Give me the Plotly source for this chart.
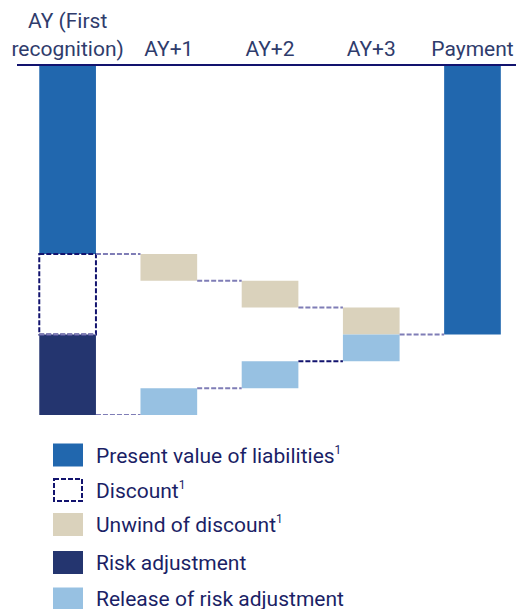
import plotly.graph_objects as go

categories = ["AY (First<br>recognition)", "AY+1", "AY+2", "AY+3", "Payment"]
present_value = 7.0
discount = 3.0
risk_adjustment = 3.0
unwind = [1.0, 1.0, 1.0]      # AY+1..AY+3
release = [1.0, 1.0, 1.0]     # AY+1..AY+3
payment = 10.0

SUP = "<sup><span style='font-size:12px'>1</span></sup>"
legend_labels = ["Present value of liabilities" + SUP, "Discount" + SUP,
                 "Unwind of discount" + SUP, "Risk adjustment", "Release of risk adjustment"]

C_PV = "#2167ae"
C_RA = "#24356f"
C_UNW = "#dad2bc"
C_REL = "#97c1e2"
C_DASH = "#7f7db6"
C_NAVY = "#12136e"
C_TEXT = "#1b1f66"
C_TICK = "#2f3c6c"
DASH = "5px,2px"

W = 0.56
xs = list(range(len(categories)))

fig = go.Figure()

# AY bars
fig.add_bar(x=[0], y=[present_value], base=[0], marker=dict(color=C_PV, line_width=0), width=W, showlegend=False)
fig.add_bar(x=[0], y=[risk_adjustment], base=[present_value + discount], marker=dict(color=C_RA, line_width=0), width=W, showlegend=False)

# unwind
ub = []
acc = present_value
for u in unwind:
    ub.append(acc)
    acc += u
fig.add_bar(x=[1, 2, 3], y=unwind, base=ub, marker=dict(color=C_UNW, line_width=0), width=W, showlegend=False)

# release
rb = []
acc = present_value + discount + risk_adjustment
for r in release:
    acc -= r
    rb.append(acc)
fig.add_bar(x=[1, 2, 3], y=release, base=rb, marker=dict(color=C_REL, line_width=0), width=W, showlegend=False)

# payment
fig.add_bar(x=[4], y=[payment], base=[0], marker=dict(color=C_PV, line_width=0), width=W, showlegend=False)

shapes = []
# discount dashed box
shapes.append(dict(type="rect", xref="x", yref="y", x0=-W / 2, x1=W / 2,
                   y0=present_value, y1=present_value + discount,
                   line=dict(color=C_NAVY, width=2, dash=DASH), fillcolor="rgba(0,0,0,0)"))

# connectors top (unwind chain)
tops = [present_value] + [b + u for b, u in zip(ub, unwind)]
for i in range(4):
    y = tops[i]
    shapes.append(dict(type="line", xref="x", yref="y", x0=i + W / 2, x1=i + 1 - W / 2, y0=y, y1=y,
                       line=dict(color=C_DASH, width=2, dash=DASH)))
# bottom edge of discount box appears in connector colour
shapes.append(dict(type="line", xref="x", yref="y", x0=-W / 2, x1=W / 2,
                   y0=present_value + discount, y1=present_value + discount,
                   line=dict(color=C_DASH, width=2, dash=DASH)))
# connectors bottom (release chain)
bots = [present_value + discount + risk_adjustment] + rb
for i in range(3):
    y = bots[i]
    col = C_NAVY if i == 2 else C_DASH
    shapes.append(dict(type="line", xref="x", yref="y", x0=i + W / 2, x1=i + 1 - W / 2, y0=y, y1=y,
                       line=dict(color=col, width=2, dash=DASH)))

# manual legend (pixel -> paper)
PL, PR, PT, PB = 17, 516, 66, 415
def px(x):
    return (x - PL) / (PR - PL)
def py(y):
    return (PB - y) / (PB - PT)

legend_y = [455, 490, 524.5, 562.5, 599]
legend_cols = [C_PV, None, C_UNW, C_RA, C_REL]
annotations = []
for lbl, yc, col in zip(legend_labels, legend_y, legend_cols):
    if col is None:
        shapes.append(dict(type="rect", xref="paper", yref="paper", x0=px(54), x1=px(82),
                           y0=py(yc - 11), y1=py(yc + 11),
                           line=dict(color=C_NAVY, width=2, dash=DASH), fillcolor="rgba(0,0,0,0)"))
    else:
        shapes.append(dict(type="rect", xref="paper", yref="paper", x0=px(53), x1=px(83),
                           y0=py(yc - 11.5), y1=py(yc + 11.5), line_width=0, fillcolor=col))
    annotations.append(dict(x=px(94), y=py(yc), xref="paper", yref="paper", text=lbl,
                            showarrow=False, xanchor="left", yanchor="middle",
                            font=dict(family="Roboto", size=21, color=C_TEXT)))

fig.update_layout(
    width=516, height=609,
    margin=dict(l=PL, r=0, t=PT, b=609 - PB),
    paper_bgcolor="white", plot_bgcolor="white",
    barmode="overlay",
    shapes=shapes, annotations=annotations,
    xaxis=dict(side="top", range=[-0.5, 4.43], tickvals=xs, ticktext=categories,
               showgrid=False, zeroline=False, showline=True, linecolor=C_NAVY, linewidth=2,
               ticks="", tickfont=dict(family="Roboto", size=21, color=C_TICK)),
    yaxis=dict(range=[present_value + discount + risk_adjustment, 0], visible=False,
               showgrid=False, zeroline=False),
)

fig.write_html("out.html")
